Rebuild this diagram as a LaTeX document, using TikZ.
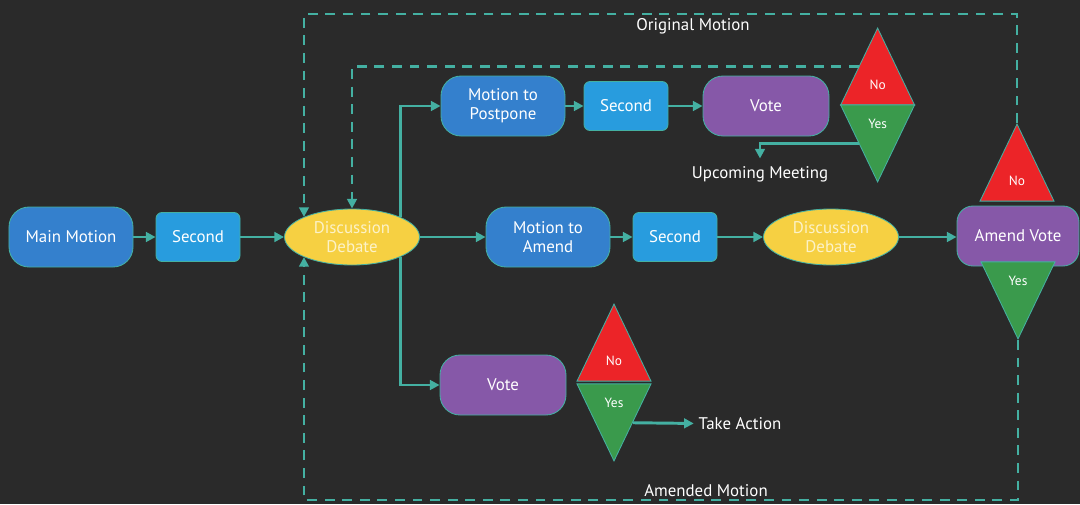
\documentclass[tikz,border=0pt]{standalone}
\usepackage{fontspec}
\setmainfont{PT Sans}
\usepackage{xcolor}
\usepackage{tikz}
\usetikzlibrary{shapes.geometric, arrows.meta, positioning}

\definecolor{board}{RGB}{42,42,42}
\definecolor{linkteal}{RGB}{68,176,162}
\definecolor{motionblue}{RGB}{52,128,205}
\definecolor{secondblue}{RGB}{40,156,222}
\definecolor{votepurple}{RGB}{134,88,168}
\definecolor{debateyellow}{RGB}{246,208,66}
\definecolor{debatetext}{RGB}{252,242,200}
\definecolor{nored}{RGB}{236,36,40}
\definecolor{yesgreen}{RGB}{58,154,76}

\begin{document}
\begin{tikzpicture} [
          font = \fontsize{12}{13.5}\selectfont,
          box/.style = {draw = linkteal, line width = 0.6pt, text = white, align = center},
          motion/.style = {box, fill = motionblue, rounded corners = 0.5cm,
              minimum width = 3.1cm, minimum height = 1.5cm},
          second/.style = {box, fill = secondblue, rounded corners = 0.15cm,
              minimum width = 2.1cm, minimum height = 1.225cm},
          debate/.style = {box, ellipse, fill = debateyellow, text = debatetext,
              minimum width = 3.375cm, minimum height = 1.4cm, inner sep = 0pt},
          vote/.style = {box, fill = votepurple, rounded corners = 0.5cm,
              minimum width = 3.15cm, minimum height = 1.5cm},
          tri/.style = {box, isosceles triangle, isosceles triangle stretches,
              minimum width = 1.85cm, minimum height = 1.925cm, inner sep = 0pt,
              font = \fontsize{9.5}{10}\selectfont},
          no/.style = {tri, fill = nored, shape border rotate = 90, anchor = apex},
          yes/.style = {tri, fill = yesgreen, shape border rotate = 270, anchor = apex},
          note/.style = {text = white},
          link/.style = {draw = linkteal, line width = 2.1pt,
              -{Triangle[length = 2.4mm, width = 2.4mm]}},
          dashed link/.style = {link, dash pattern = on 7pt off 5.5pt}
          ]

          % Background
          \fill [board] (0,0) rectangle (27,12.6);
          \useasboundingbox (0,0) rectangle (27,12.6);

          % Main line
          \node (main) [motion] at (1.775,6.675) {Main Motion};
          \node (sec1) [second] at (4.95,6.675) {Second};
          \node (disc1) [debate] at (8.8,6.675) {Discussion\\Debate};

          % Postpone
          \node (postpone) [motion] at (12.575,9.95) {Motion to\\Postpone};
          \node (sec2) [second] at (15.65,9.95) {Second};
          \node (voteT) [vote] at (19.15,9.95) {Vote};
          \node (noT) [no] at (21.94,11.925) {No};
          \node (yesT) [yes] at (21.94,8.025) {Yes};
          \node (upcoming) [note] at (19.0,8.25) {Upcoming Meeting};

          % Amend
          \node (amend) [motion] at (13.7,6.675) {Motion to\\Amend};
          \node (sec3) [second] at (16.875,6.675) {Second};
          \node (disc2) [debate] at (20.775,6.675) {Discussion\\Debate};
          \node (avote) [vote, minimum width = 3.05cm, rounded corners = 0.4cm]
              at (25.45,6.7) {Amend Vote};
          \node (noR) [no] at (25.425,9.525) {No};
          \node (yesR) [yes] at (25.45,4.1) {Yes};

          % Vote now
          \node (voteB) [vote] at (12.575,2.975) {Vote};
          \node (noB) [no] at (15.35,5.025) {No};
          \node (yesB) [yes] at (15.35,1.05) {Yes};
          \node (take) [note] at (18.5,2.0) {Take Action};

          % Loop labels
          \node (orig) [note] at (17.325,11.95) {Original Motion};
          \node (amended) [note] at (17.65,0.325) {Amended Motion};

          % Links
          \draw [link] (main) -- (sec1);
          \draw [link] (sec1) -- (disc1);
          \draw [link] (disc1) -- (amend);
          \draw [link] (disc1.north east) |- (postpone);
          \draw [link] (disc1.south east) |- (voteB);
          \draw [link] (postpone) -- (sec2);
          \draw [link] (sec2) -- (voteT);
          \draw [link] (yesT.right side) -| ([yshift=2pt]upcoming.north);
          \draw [link] (amend) -- (sec3);
          \draw [link] (sec3) -- (disc2);
          \draw [link] (disc2) -- (disc2 -| avote.west);
          \draw [link] (yesB.left side) -- (take);

          % Back to debate
          \draw [dashed link] (noR.apex) |- (disc1.north west |- 0,12.25) -- (disc1.north west);
          \draw [dashed link] (noT.left side) -| (disc1.north);
          \draw [dashed link] (yesR.apex) |- (disc1.south west |- 0,0.1) -- (disc1.south west);

        \end{tikzpicture}
\end{document}
